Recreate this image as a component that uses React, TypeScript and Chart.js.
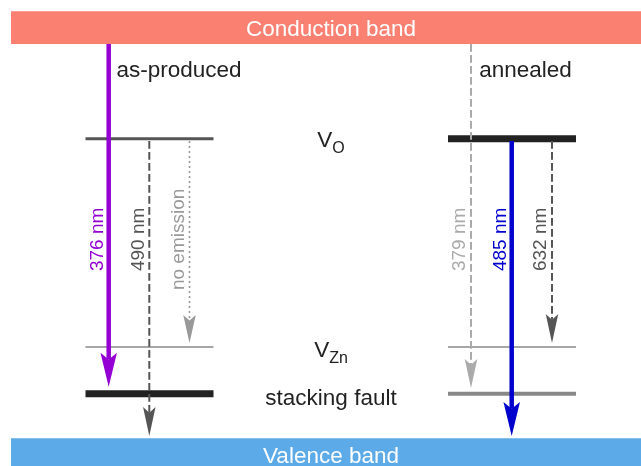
import React, { useEffect, useRef } from "react";
import { Chart, registerables } from "chart.js";

Chart.register(...registerables);

// ---- Data (energies in eV above the valence-band top; x in diagram layout units) ----
const xRange = [0, 641];
const energyRange = [-0.237, 3.746];

const bandGap = 3.37;
const bandThickness = 0.28;
const bandNames = ["Conduction band", "Valence band"];
const bandXStart = 11;
const bandXEnd = 651;

const panelNames = ["as-produced", "annealed"];
const panelLabelX = [116.5, 479.2];
const panelLabelE = 3.09;
const panelLevelXStart = [85.5, 448];
const panelLevelXEnd = [213.5, 576];

const levelNames = ["V", "V", "stacking fault"];
const levelSubscripts = ["O", "Zn", ""];
const levelEnergy = [2.56, 0.78, 0.38];
const levelLabelE = [2.49, 0.695, 0.285];
const levelLabelX = 331;

const transitionLabels = ["376 nm", "490 nm", "no emission", "379 nm", "485 nm", "632 nm"];
const transitionX = [108.7, 149.3, 189.5, 471, 511.7, 552];
const transitionFrom = [3.37, 2.54, 2.54, 3.37, 2.54, 2.54];
const transitionTo = [0.44, 0.02, 0.815, 0.43, 0.02, 0.815];
const transitionLabelE = 1.7;

// ---- Styles ----
const FONT = "'Liberation Sans', Arial, Helvetica, sans-serif";
const bandColors = ["#fa8072", "#5daae9"];
const levelColors = [
  ["#555555", "#888888", "#222222"],
  ["#222222", "#888888", "#888888"],
];
const levelWidths = [
  [3, 1.5, 7],
  [7, 1.5, 4],
];
const transitionColors = ["#9400d3", "#555555", "#999999", "#aaaaaa", "#0000cd", "#555555"];
const transitionKinds = ["solid", "dashed", "dotted", "dashed", "solid", "dashed"];
const kindStyles: Record<string, { width: number; dash: number[]; headLen: number; headW: number }> = {
  solid: { width: 4.5, dash: [], headLen: 34, headW: 16.5 },
  dashed: { width: 2, dash: [7.7, 3.3], headLen: 29, headW: 12.5 },
  dotted: { width: 1.6, dash: [2, 3], headLen: 28, headW: 12.5 },
};

const diagramPlugin = {
  id: "diagramAnnotations",
  afterDatasetsDraw(chart: any) {
    const { ctx } = chart;
    const xs = chart.scales.x;
    const ys = chart.scales.y;
    ctx.save();

    // transitions (arrows)
    transitionX.forEach((tx, i) => {
      const st = kindStyles[transitionKinds[i]];
      const color = transitionColors[i];
      const px = xs.getPixelForValue(tx);
      const p0 = ys.getPixelForValue(transitionFrom[i]);
      const p1 = ys.getPixelForValue(transitionTo[i]);
      const dir = Math.sign(p1 - p0);
      const notch = p1 - dir * st.headLen * 0.8;
      ctx.strokeStyle = color;
      ctx.lineWidth = st.width;
      ctx.setLineDash(st.dash);
      ctx.lineCap = "butt";
      ctx.beginPath();
      ctx.moveTo(px, p0);
      ctx.lineTo(px, notch);
      ctx.stroke();
      ctx.setLineDash([]);
      ctx.fillStyle = color;
      ctx.beginPath();
      ctx.moveTo(px, p1);
      ctx.lineTo(px - st.headW / 2, p1 - dir * st.headLen);
      ctx.lineTo(px, notch);
      ctx.lineTo(px + st.headW / 2, p1 - dir * st.headLen);
      ctx.closePath();
      ctx.fill();

      // rotated label
      ctx.save();
      ctx.translate(px - 5.8, ys.getPixelForValue(transitionLabelE));
      ctx.rotate(-Math.PI / 2);
      ctx.font = `19px ${FONT}`;
      ctx.textAlign = "center";
      ctx.textBaseline = "alphabetic";
      ctx.fillText(transitionLabels[i], 0, 0);
      ctx.restore();
    });

    // band labels
    const bandCenters = [bandGap + bandThickness / 2, -bandThickness / 2];
    ctx.font = `22.5px ${FONT}`;
    ctx.fillStyle = "#ffffff";
    ctx.textAlign = "center";
    ctx.textBaseline = "alphabetic";
    bandNames.forEach((name, i) => {
      const cx = xs.getPixelForValue((bandXStart + bandXEnd) / 2);
      const cy = ys.getPixelForValue(bandCenters[i]) + 0.358 * 22.5;
      ctx.fillText(name, cx, cy);
    });

    // panel labels
    ctx.fillStyle = "#222222";
    ctx.textAlign = "left";
    panelNames.forEach((name, i) => {
      ctx.fillText(name, xs.getPixelForValue(panelLabelX[i]), ys.getPixelForValue(panelLabelE));
    });

    // level labels (with subscripts)
    levelNames.forEach((name, i) => {
      const sub = levelSubscripts[i];
      ctx.font = `22.5px ${FONT}`;
      const w1 = ctx.measureText(name).width;
      ctx.font = `16px ${FONT}`;
      const w2 = sub ? ctx.measureText(sub).width : 0;
      const left = xs.getPixelForValue(levelLabelX) - (w1 + w2) / 2;
      const base = ys.getPixelForValue(levelLabelE[i]);
      ctx.textAlign = "left";
      ctx.font = `22.5px ${FONT}`;
      ctx.fillText(name, left, base);
      if (sub) {
        ctx.font = `16px ${FONT}`;
        ctx.fillText(sub, left + w1, base + 6);
      }
    });

    ctx.restore();
  },
};

export default function App() {
  const canvasRef = useRef<HTMLCanvasElement | null>(null);

  useEffect(() => {
    if (!canvasRef.current) return;

    const datasets: any[] = [];
    // bands
    const bandTops = [bandGap + bandThickness, 0];
    const bandBottoms = [bandGap, -bandThickness];
    bandNames.forEach((name, i) => {
      datasets.push({
        label: name,
        data: [
          { x: bandXStart, y: bandTops[i] },
          { x: bandXEnd, y: bandTops[i] },
        ],
        showLine: true,
        borderWidth: 0,
        borderColor: "rgba(0,0,0,0)",
        backgroundColor: bandColors[i],
        fill: { value: bandBottoms[i] },
        pointRadius: 0,
      });
    });
    // levels
    panelNames.forEach((panel, p) => {
      levelEnergy.forEach((e, l) => {
        datasets.push({
          label: `${panel} ${levelNames[l]}${levelSubscripts[l]}`,
          data: [
            { x: panelLevelXStart[p], y: e },
            { x: panelLevelXEnd[p], y: e },
          ],
          showLine: true,
          borderColor: levelColors[p][l],
          borderWidth: levelWidths[p][l],
          borderCapStyle: "butt",
          fill: false,
          pointRadius: 0,
        });
      });
    });

    const chart = new Chart(canvasRef.current, {
      type: "scatter",
      data: { datasets },
      options: {
        responsive: false,
        maintainAspectRatio: false,
        animation: false,
        layout: { padding: 0 },
        plugins: {
          legend: { display: false },
          tooltip: { enabled: false },
        },
        scales: {
          x: { type: "linear", min: xRange[0], max: xRange[1], display: false },
          y: { type: "linear", min: energyRange[0], max: energyRange[1], display: false },
        },
      },
      plugins: [diagramPlugin],
    });
    return () => chart.destroy();
  }, []);

  return (
    <div style={{ position: "absolute", left: 0, top: 0, width: 641, height: 466, background: "#ffffff" }}>
      <canvas ref={canvasRef} width={641} height={466} />
    </div>
  );
}
